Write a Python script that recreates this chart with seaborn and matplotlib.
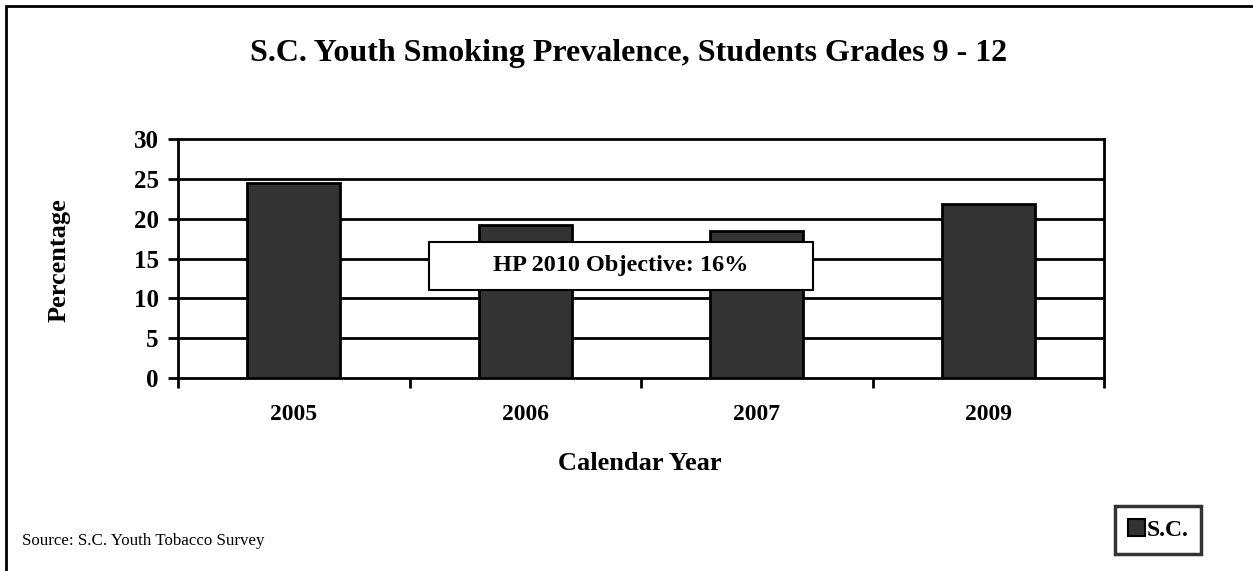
import matplotlib
matplotlib.use("Agg")
import matplotlib.pyplot as plt
from matplotlib.patches import Rectangle, Patch
import seaborn as sns
import pandas as pd

years = ["2005", "2006", "2007", "2009"]
prevalence = [24.5, 19.2, 18.5, 21.9]
y_ticks = [0, 5, 10, 15, 20, 25, 30]
series_name = "S.C."

title = "S.C. Youth Smoking Prevalence, Students Grades 9 - 12"
x_title = "Calendar Year"
y_title = "Percentage"
note = "HP 2010 Objective: 16%"
source = "Source: S.C. Youth Tobacco Survey"

sns.set_theme(style="white")
plt.rcParams["font.family"] = ["Liberation Serif", "DejaVu Serif"]
plt.rcParams["text.color"] = "black"
plt.rcParams["axes.labelcolor"] = "black"
plt.rcParams["xtick.color"] = "black"
plt.rcParams["ytick.color"] = "black"

df = pd.DataFrame({"year": years, "pct": prevalence})

W, H = 1253, 571
fig = plt.figure(figsize=(W / 100, H / 100), dpi=100)
fig.patch.set_facecolor("white")

# outer frame around the whole chart area
fig.patches.append(Rectangle((6 / W, -0.02), 1.05, 1 - 6 / H + 0.02,
                             transform=fig.transFigure, fill=False,
                             edgecolor="black", linewidth=2, zorder=0))

left, right, top, bottom = 178, 1104, 139, 378
aw, ah = right - left, bottom - top
ax = fig.add_axes([left / W, 1 - bottom / H, aw / W, ah / H])

sns.barplot(data=df, x="year", y="pct", color="#333333", width=0.4,
            edgecolor="black", linewidth=2, saturation=1, ax=ax, zorder=3)

ax.set_ylim(0, 30)
ax.set_xlim(-0.5, len(years) - 0.5)
ax.set_yticks(y_ticks)
ax.set_yticklabels([str(t) for t in y_ticks], fontsize=18, fontweight="bold")
for t in y_ticks[1:-1]:
    ax.axhline(t, color="black", linewidth=2, zorder=1)

# ticks at category boundaries, labels at category centres
ax.set_xticks([i - 0.5 for i in range(len(years) + 1)])
ax.set_xticklabels([])
ax.set_xticks(range(len(years)), minor=True)
ax.set_xticklabels(years, minor=True, fontsize=17, fontweight="bold")
ax.tick_params(axis="x", which="major", bottom=True, direction="out",
               length=7, width=2, color="black")
ax.tick_params(axis="x", which="minor", bottom=True, length=0, pad=19)
ax.tick_params(axis="y", left=True, direction="out", length=7, width=2,
               color="black", pad=7)

for s in ax.spines.values():
    s.set_visible(True)
    s.set_color("black")
    s.set_linewidth(2)

ax.set_xlabel(x_title, fontsize=19, fontweight="bold")
ax.set_ylabel(y_title, fontsize=19, fontweight="bold")
ax.xaxis.set_label_coords((640 - left) / aw, -(452 - bottom) / ah)
ax.yaxis.set_label_coords(-(left - 71) / aw, (bottom - 260) / ah)

fig.text(629 / W, 1 - 53 / H, title, ha="center", va="center",
         fontsize=23, fontweight="bold")

# objective callout box
bx0, bx1 = (429 - left) / aw, (813 - left) / aw
by0, by1 = (bottom - 290) / ah, (bottom - 242) / ah
ax.add_patch(Rectangle((bx0, by0), bx1 - bx0, by1 - by0, transform=ax.transAxes,
                       facecolor="white", edgecolor="black", linewidth=1.5, zorder=5))
ax.text((bx0 + bx1) / 2, (by0 + by1) / 2, note, transform=ax.transAxes,
        ha="center", va="center", fontsize=17.5, fontweight="bold", zorder=6)

fig.text(22 / W, 1 - 541 / H, source, ha="left", va="center", fontsize=12.2)

leg = fig.legend(handles=[Patch(facecolor="#333333", edgecolor="black", linewidth=1.5)],
                 labels=[series_name], loc="center",
                 bbox_to_anchor=(1158 / W, 1 - 530 / H),
                 prop={"weight": "bold", "size": 17}, frameon=True, fancybox=False,
                 handlelength=0.75, handleheight=0.75, handletextpad=0.05,
                 borderpad=0.55, borderaxespad=0)
leg.get_frame().set_edgecolor("black")
leg.get_frame().set_linewidth(2.5)

fig.savefig("out.png", dpi=100, facecolor="white")
